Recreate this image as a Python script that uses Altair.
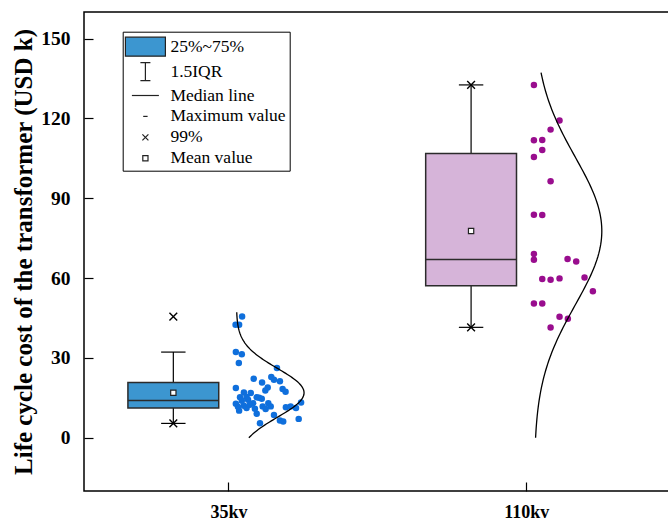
import altair as alt
import numpy as np
import pandas as pd

# ---------------- data ----------------
groups = ["35kv", "110kv"]
group_pos = [1, 2]

kv35_values = [45.6, 42.5, 42.5, 32.2, 31.4, 28.1, 26.2, 22.2, 20.8, 22.8, 21.8, 21.2,
               18.9, 17.8, 18.7, 18.3, 17.3, 17.0, 16.8, 15.2, 15.3, 15.2, 15.0, 14.3,
               13.0, 12.8, 12.0, 11.2, 10.2, 13.0, 11.8, 11.8, 10.8, 9.0, 11.5, 11.8,
               11.2, 13.3, 8.6, 6.5, 6.1, 7.1, 5.5, 13.9, 12.4, 10.9, 11.7, 14.7]
kv35_jitter = [0.046, 0.024, 0.036, 0.025, 0.045, 0.035, 0.163, 0.085, 0.113, 0.144, 0.153, 0.173,
               0.132, 0.124, 0.025, 0.182, 0.192, 0.052, 0.075, 0.039, 0.061, 0.095, 0.103, 0.066,
               0.083, 0.025, 0.052, 0.061, 0.036, 0.134, 0.142, 0.115, 0.125, 0.095, 0.193, 0.209,
               0.227, 0.244, 0.153, 0.173, 0.184, 0.236, 0.106, 0.045, 0.072, 0.089, 0.032, 0.112]

kv110_values = [132.6, 119.2, 115.8, 111.8, 111.9, 108.1, 105.5, 96.4, 83.8, 83.7, 69.1, 66.9,
                67.2, 66.2, 59.7, 59.4, 59.9, 60.2, 55.1, 50.5, 50.5, 45.5, 44.7, 41.4]
kv110_jitter = [0.026, 0.112, 0.082, 0.026, 0.054, 0.054, 0.026, 0.082, 0.026, 0.054, 0.026, 0.026,
                0.139, 0.168, 0.054, 0.082, 0.112, 0.196, 0.224, 0.026, 0.054, 0.112, 0.140, 0.082]

q1 = [11.2, 57.1]
median = [14.0, 67.0]
q3 = [20.8, 106.8]
whisker_low = [5.4, 41.5]
whisker_high = [32.2, 132.6]
mean_value = [16.9, 77.7]

pct_mark_group = ["35kv", "35kv", "110kv", "110kv"]
pct_mark_value = [45.5, 5.4, 132.6, 41.5]

legend_labels = ["25%~75%", "1.5IQR", "Median line", "Maximum value", "99%", "Mean value"]
y_ticks = [0, 30, 60, 90, 120, 150]

# ---------------- layout / style ----------------
box_colors = ["#3c96d0", "#d6b4d9"]
dot_colors = ["#0f6fdc", "#990d8e"]
BOX_OFFSET = -0.185
BOX_HALF = 0.1525
CAP_HALF = 0.041
CURVE_BASE = 0.027
CURVE_WIDTH = 0.227
FONT = "Liberation Serif"

# ---------------- derived tables ----------------
pos_of = dict(zip(groups, group_pos))
stats = pd.DataFrame({
    "group": groups, "pos": group_pos, "q1": q1, "med": median, "q3": q3,
    "lo": whisker_low, "hi": whisker_high, "mean": mean_value,
})
stats["center"] = stats["pos"] + BOX_OFFSET
stats["bx1"] = stats["center"] - BOX_HALF
stats["bx2"] = stats["center"] + BOX_HALF
stats["cx1"] = stats["center"] - CAP_HALF
stats["cx2"] = stats["center"] + CAP_HALF

caps = pd.concat([
    stats[["group", "cx1", "cx2"]].assign(v=stats["lo"]),
    stats[["group", "cx1", "cx2"]].assign(v=stats["hi"]),
])

marks = pd.DataFrame({"group": pct_mark_group, "v": pct_mark_value})
marks["center"] = [pos_of[g] + BOX_OFFSET for g in marks["group"]]

pts = pd.concat([
    pd.DataFrame({"group": "35kv", "v": kv35_values,
                  "x": [pos_of["35kv"] + j for j in kv35_jitter]}),
    pd.DataFrame({"group": "110kv", "v": kv110_values,
                  "x": [pos_of["110kv"] + j for j in kv110_jitter]}),
])

curves = []
for g, vals, mu in zip(groups, [kv35_values, kv110_values], mean_value):
    sd = float(np.std(vals, ddof=1))
    ys = np.linspace(0, max(vals) * 1.035, 120)
    xs = pos_of[g] + CURVE_BASE + CURVE_WIDTH * np.exp(-((ys - mu) ** 2) / (2 * sd ** 2))
    curves.append(pd.DataFrame({"group": g, "cy": ys, "cxv": xs, "idx": np.arange(len(ys))}))
curves = pd.concat(curves)

# ---------------- scales / axes ----------------
x_scale = alt.Scale(domain=[0.515, 2.483], nice=False, zero=False)
y_scale = alt.Scale(domain=[-20, 160], nice=False, zero=False)
label_expr = " : ".join(
    [f"datum.value == {p} ? '{g}'" for p, g in zip(group_pos, groups)]) + " : ''"

x_axis = alt.Axis(values=group_pos, labelExpr=label_expr, title=None, grid=False,
                  domain=False, tickSize=9, offset=-9, tickColor="black", tickWidth=1.2,
                  labelFont=FONT, labelFontSize=18, labelFontWeight="bold",
                  labelColor="black", labelPadding=12)
y_axis = alt.Axis(values=y_ticks, title="Life cycle cost of the transformer (USD k)",
                  grid=False, domain=False, tickSize=9, offset=-9, tickColor="black",
                  tickWidth=1.2, labelFont=FONT, labelFontSize=19.5, labelFontWeight="bold",
                  labelColor="black", labelPadding=14, titleFont=FONT, titleFontSize=25,
                  titleFontWeight="bold", titleColor="black", titlePadding=4)


def X(f):
    return alt.X(f"{f}:Q", scale=x_scale, axis=x_axis)


def Y(f):
    return alt.Y(f"{f}:Q", scale=y_scale, axis=y_axis)


grp_fill = alt.Fill("group:N", scale=alt.Scale(domain=groups, range=box_colors), legend=None)
grp_color = alt.Color("group:N", scale=alt.Scale(domain=groups, range=dot_colors), legend=None)

whisker = alt.Chart(stats).mark_rule(color="black", strokeWidth=1.2).encode(
    x=X("center"), y=Y("lo"), y2="hi")
cap = alt.Chart(caps).mark_rule(color="black", strokeWidth=1.2).encode(
    x=X("cx1"), x2="cx2", y=Y("v"))
box = alt.Chart(stats).mark_rect(stroke="#2b2b2b", strokeWidth=1.5).encode(
    x=X("bx1"), x2="bx2", y=Y("q1"), y2="q3", fill=grp_fill)
med = alt.Chart(stats).mark_rule(color="#2b2b2b", strokeWidth=1.5).encode(
    x=X("bx1"), x2="bx2", y=Y("med"))
mean_pt = alt.Chart(stats).mark_point(shape="square", size=28, filled=True, fill="white",
                                      stroke="#222", strokeWidth=1.2, opacity=1).encode(
    x=X("center"), y=Y("mean"))
xmark = alt.Chart(marks).mark_point(shape="M-1,-1L1,1M-1,1L1,-1", size=60, filled=False,
                                    stroke="black", strokeWidth=1.4, opacity=1).encode(
    x=X("center"), y=Y("v"))
dots = alt.Chart(pts).mark_circle(size=42, opacity=1).encode(
    x=X("x"), y=Y("v"), color=grp_color)
curve = alt.Chart(curves).mark_line(color="black", strokeWidth=1.3).encode(
    x=X("cxv"), y=Y("cy"), detail="group:N", order="idx:Q")

legend_df = pd.DataFrame({"item": legend_labels})
sym_paths = [
    "M-2,-0.95H2V0.95H-2Z",
    "M0,-0.9V0.9M-0.5,-0.9H0.5M-0.5,0.9H0.5",
    "M-1.35,0H1.35",
    "M-0.22,0H0.22",
    "M-0.3,-0.3L0.3,0.3M-0.3,0.3L0.3,-0.3",
    "M-0.26,-0.26H0.26V0.26H-0.26Z",
]
sym_fills = [box_colors[0], "transparent", "transparent", "transparent", "transparent", "white"]
sym_strokes = ["#222222"] * len(legend_labels)
leg = alt.Legend(title=None, orient="none", legendX=38.7, legendY=19.7, padding=4,
                 strokeColor="black", fillColor="white", cornerRadius=0,
                 symbolSize=400, symbolOffset=7.7, labelOffset=14, rowPadding=0.9,
                 symbolStrokeColor="black", symbolStrokeWidth=1.2,
                 labelFont=FONT, labelFontSize=17.5, labelColor="black", labelLimit=300)
legend_layer = alt.Chart(legend_df).transform_filter("false").mark_point(
    filled=True, strokeWidth=1.2, opacity=1).encode(
    shape=alt.Shape("item:N", scale=alt.Scale(domain=legend_labels, range=sym_paths), legend=leg),
    fill=alt.Fill("item:N", scale=alt.Scale(domain=legend_labels, range=sym_fills), legend=leg),
    stroke=alt.Stroke("item:N", scale=alt.Scale(domain=legend_labels, range=sym_strokes), legend=leg),
)

chart = alt.layer(whisker, cap, box, med, mean_pt, xmark, dots, curve, legend_layer).resolve_scale(
    fill="independent", color="independent", shape="independent", stroke="independent"
).properties(
    width=586, height=479,
    background="white",
    autosize=alt.AutoSizeParams(type="none"),
    padding={"left": 84, "top": 12, "right": -2, "bottom": 34},
).configure_view(stroke="black", strokeWidth=1.5)

chart.save("out.html", embed_options={"renderer": "svg", "actions": False})
